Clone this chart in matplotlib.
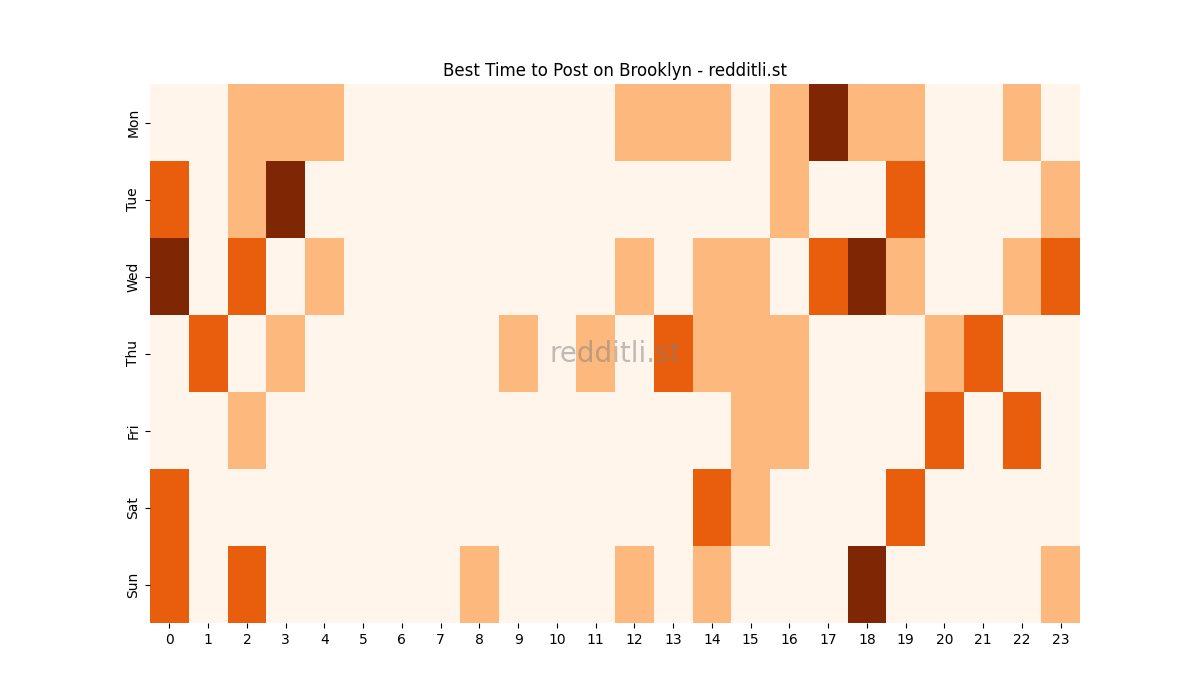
import matplotlib
matplotlib.use("Agg")
import matplotlib.pyplot as plt
import seaborn as sns
import pandas as pd

days = ["Mon", "Tue", "Wed", "Thu", "Fri", "Sat", "Sun"]
hours = list(range(24))

# activity level per hour (0-3)
mon = [0, 0, 1, 1, 1, 0, 0, 0, 0, 0, 0, 0, 1, 1, 1, 0, 1, 3, 1, 1, 0, 0, 1, 0]
tue = [2, 0, 1, 3, 0, 0, 0, 0, 0, 0, 0, 0, 0, 0, 0, 0, 1, 0, 0, 2, 0, 0, 0, 1]
wed = [3, 0, 2, 0, 1, 0, 0, 0, 0, 0, 0, 0, 1, 0, 1, 1, 0, 2, 3, 1, 0, 0, 1, 2]
thu = [0, 2, 0, 1, 0, 0, 0, 0, 0, 1, 0, 1, 0, 2, 1, 1, 1, 0, 0, 0, 1, 2, 0, 0]
fri = [0, 0, 1, 0, 0, 0, 0, 0, 0, 0, 0, 0, 0, 0, 0, 1, 1, 0, 0, 0, 2, 0, 2, 0]
sat = [2, 0, 0, 0, 0, 0, 0, 0, 0, 0, 0, 0, 0, 0, 2, 1, 0, 0, 0, 2, 0, 0, 0, 0]
sun = [2, 0, 2, 0, 0, 0, 0, 0, 1, 0, 0, 0, 1, 0, 1, 0, 0, 0, 3, 0, 0, 0, 0, 1]

df = pd.DataFrame([mon, tue, wed, thu, fri, sat, sun], index=days, columns=hours)

fig = plt.figure(figsize=(12, 7), dpi=100)
ax = sns.heatmap(df, cmap="Oranges", vmin=0, vmax=3, cbar=False)
ax.set_title("Best Time to Post on Brooklyn - redditli.st")
ax.text(0.5, 0.5, "redditli.st", transform=ax.transAxes, ha="center", va="center",
        fontsize=20, color="grey", alpha=0.5)

plt.savefig("out.png")
